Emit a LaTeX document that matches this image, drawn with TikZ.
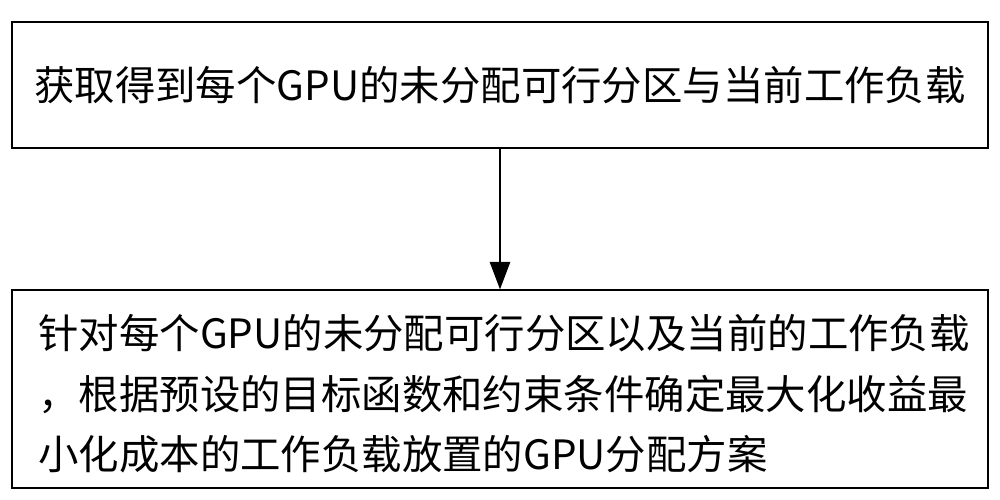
\documentclass[tikz,border=0pt]{standalone}
\usepackage{fontspec}
\setmainfont{Noto Sans CJK SC}
\usetikzlibrary{positioning,arrows.meta}
\begin{document}
\begin{tikzpicture}[
	stepbox/.style={
		rectangle,
		draw=black,
		semithick
	},
	steptext/.style={
		align=left,
		inner sep=0pt,
		font=\fontsize{23}{34.5}\selectfont
	},
]
\useasboundingbox (0,0) rectangle (20,-9.98);

\node[stepbox, minimum width=19.52cm, minimum height=2.52cm] (box1) at (10,-1.7) {};
\node[steptext] (txt1) at (box1.center) {获取得到每个GPU的未分配可行分区与当前工作负载};

\node[stepbox, minimum width=19.52cm, minimum height=3.96cm] (box2) at (10,-7.78) {};
\node[steptext, anchor=west] (txt2) at (0.76,-7.88) {针对每个GPU的未分配可行分区以及当前的工作负载\\，根据预设的目标函数和约束条件确定最大化收益最\\小化成本的工作负载放置的GPU分配方案};

\draw[line width=1.5pt,-{Triangle[length=0.55cm,width=0.4cm]}] (box1.south) -- (box2.north);

\end{tikzpicture}
\end{document}
